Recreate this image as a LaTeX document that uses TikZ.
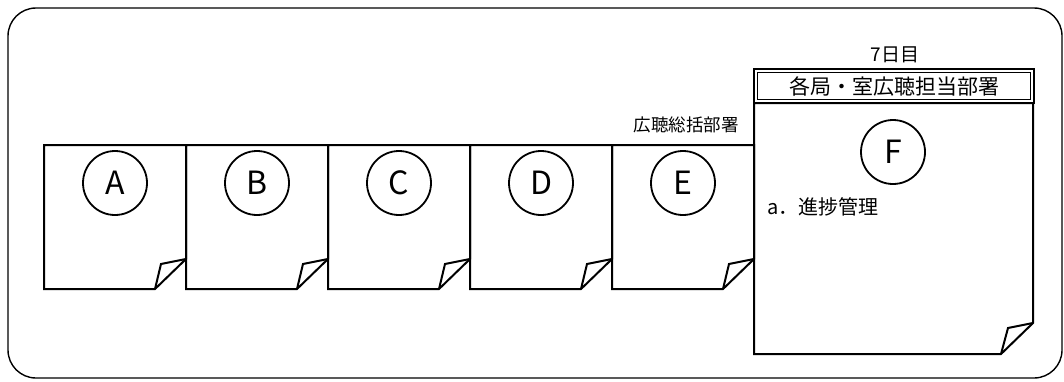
\documentclass[tikz,border=0pt]{standalone}
\usepackage{fontspec}
\newfontfamily\jp{Noto Sans CJK JP}
\begin{document}
\begin{tikzpicture}[x=1pt,y=-1pt,
  pageline/.style={line width=2pt,line join=miter},
  pagebox/.style={rectangle,inner sep=0pt,outer sep=0pt},
  letter/.style={circle,draw,line width=1.8pt,minimum size=64pt,inner sep=0pt,font=\jp\fontsize{32}{34}\selectfont},
  label/.style={inner sep=0pt,font=\jp\fontsize{#1}{#1}\selectfont},
  frame/.style={line width=1.4pt,rounded corners=28pt}]
\useasboundingbox (0,0) rectangle (1064,381);
\fill[white] (0,0) rectangle (1064,381);
\draw[frame] (8,8) rectangle (1062,378);
% small pages
\foreach \n/\cx in {A/115,B/257,C/399,D/541,E/683}{
  \node[pagebox,minimum width=142pt,minimum height=144pt] (p\n) at (\cx,217) {};
  \draw[pageline] (p\n.north west) -- (p\n.north east) -- ([yshift=30pt]p\n.south east)
     -- ([xshift=-31pt]p\n.south east) -- (p\n.south west) -- cycle;
  \draw[pageline] ([xshift=-31pt]p\n.south east) -- ([xshift=-25pt,yshift=25pt]p\n.south east) -- ([yshift=30pt]p\n.south east);
  \node[letter] (c\n) at (\cx,183) {\n};
}
% large page F
\node[pagebox,minimum width=279pt,minimum height=251pt] (pF) at (893.5,228.5) {};
\draw[pageline] (pF.north west) -- (pF.north east) -- ([yshift=31pt]pF.south east)
   -- ([xshift=-32pt]pF.south east) -- (pF.south west) -- cycle;
\draw[pageline] ([xshift=-32pt]pF.south east) -- ([xshift=-25pt,yshift=26pt]pF.south east) -- ([yshift=31pt]pF.south east);
\node[letter] (cF) at (893,152) {F};
\node[label=20,anchor=west] (tF) at (767,207) {a．進捗管理};
% header
\node[pagebox,draw,line width=2pt,minimum width=280pt,minimum height=34pt] (hdr) at (894,86) {};
\node[pagebox,draw,line width=1pt,minimum width=273pt,minimum height=27pt] (hdrin) at (hdr.center) {};
\node[label=21] (htext) at (hdrin.center) {各局・室広聴担当部署};
\node[label=19] (day) at (895,55) {7日目};
\node[label=17.5,anchor=east] (tE) at (739,125) {広聴総括部署};
\end{tikzpicture}
\end{document}
